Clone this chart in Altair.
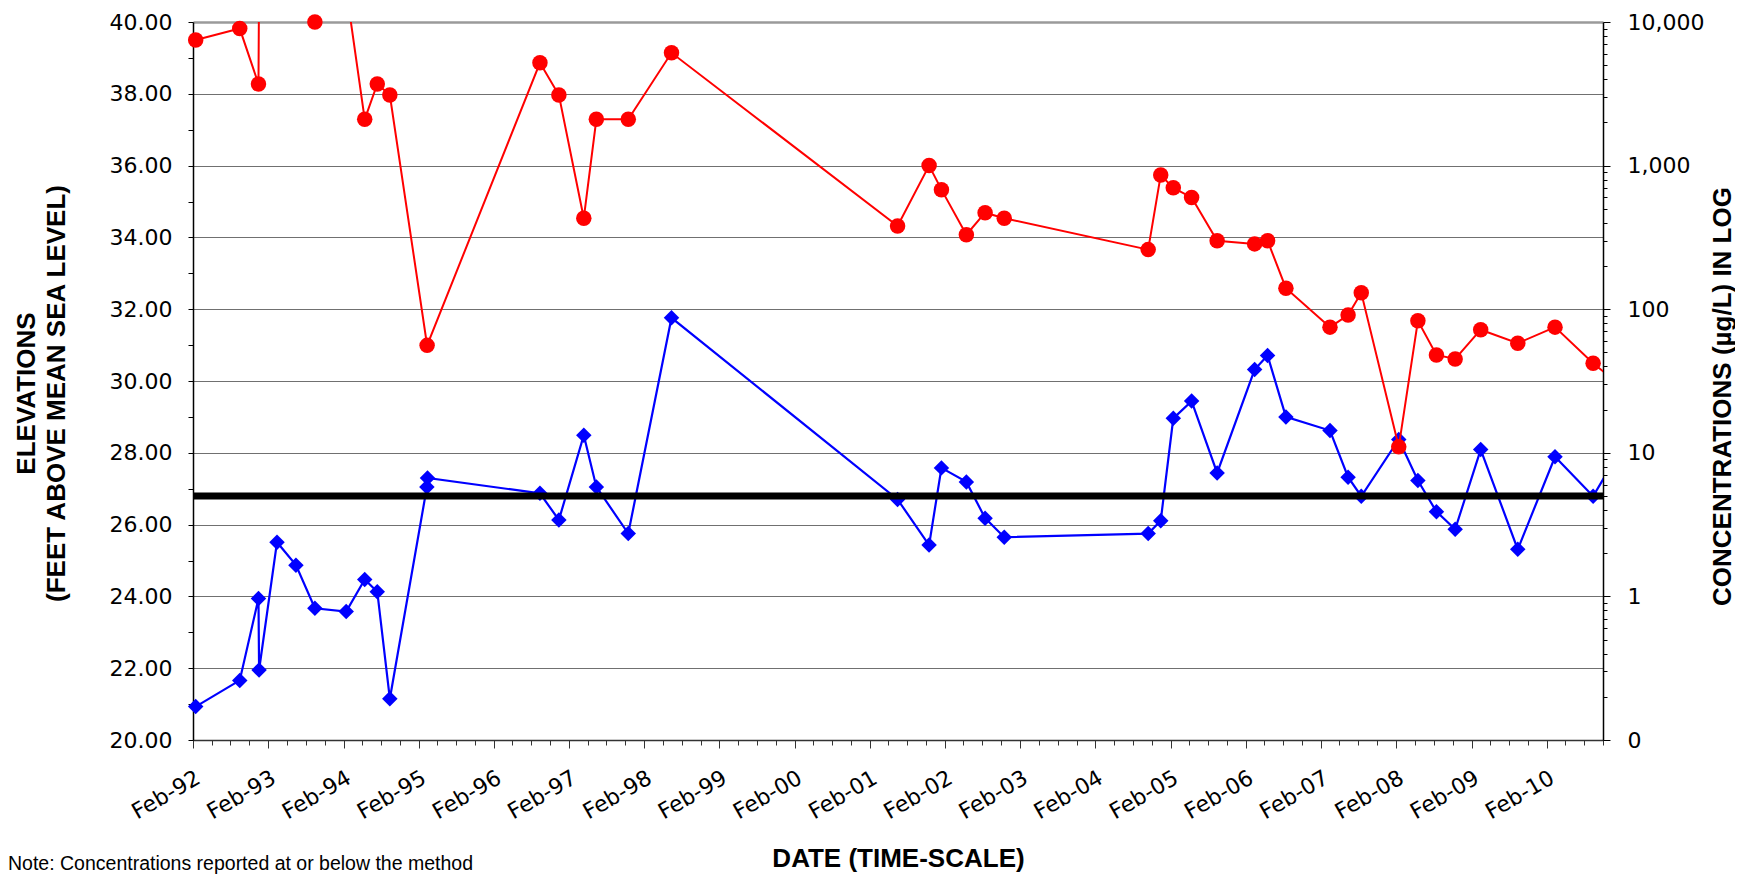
import altair as alt
import pandas as pd

# ---- data ----
red_dates = ["1992-02-14", "1992-09-15", "1992-12-15", "1992-12-18", "1993-09-15", "1994-02-14",
             "1994-05-15", "1994-07-15", "1994-09-14", "1995-03-14", "1996-09-12", "1996-12-13",
             "1997-04-13", "1997-06-13", "1997-11-15", "1998-06-13", "2001-06-15", "2001-11-15",
             "2002-01-14", "2002-05-15", "2002-08-14", "2002-11-15", "2004-10-14", "2004-12-14",
             "2005-02-13", "2005-05-13", "2005-09-14", "2006-03-15", "2006-05-17", "2006-08-14",
             "2007-03-16", "2007-06-12", "2007-08-15", "2008-02-13", "2008-05-16", "2008-08-14",
             "2008-11-13", "2009-03-17", "2009-09-13", "2010-03-13", "2010-09-14", "2011-03-15"]
red_conc = [7500, 9000, 3700, 20000, 10000, 17000,
            2100, 3700, 3100, 56, 5200, 3100,
            430, 2100, 2100, 6100, 380, 1000,
            680, 330, 470, 430, 260, 860,
            700, 600, 300, 285, 300, 140,
            75, 91, 130, 11, 83, 48,
            45, 72, 58, 75, 42, 26]

blue_dates = ["1992-02-14", "1992-09-15", "1992-12-15", "1992-12-18", "1993-03-15", "1993-06-15",
              "1993-09-15", "1994-02-14", "1994-05-15", "1994-07-15", "1994-09-14", "1995-03-13",
              "1995-03-16", "1996-09-12", "1996-12-13", "1997-04-13", "1997-06-13", "1997-11-15",
              "1998-06-13", "2001-06-15", "2001-11-15", "2002-01-14", "2002-05-15", "2002-08-14",
              "2002-11-15", "2004-10-14", "2004-12-14", "2005-02-13", "2005-05-13", "2005-09-14",
              "2006-03-15", "2006-05-17", "2006-08-14", "2007-03-16", "2007-06-12", "2007-08-15",
              "2008-02-13", "2008-05-16", "2008-08-14", "2008-11-13", "2009-03-17", "2009-09-13",
              "2010-03-13", "2010-09-14", "2011-03-15"]
blue_elev = [20.93, 21.66, 23.94, 21.95, 25.51, 24.87,
             23.67, 23.58, 24.47, 24.13, 21.15, 27.05,
             27.30, 26.87, 26.13, 28.49, 27.05, 25.75,
             31.76, 26.70, 25.43, 27.58, 27.19, 26.18,
             25.65, 25.75, 26.11, 28.96, 29.44, 27.44,
             30.32, 30.71, 29.00, 28.62, 27.32, 26.79,
             28.37, 27.23, 26.36, 25.87, 28.09, 25.31,
             27.89, 26.79, 28.56]

mcl_value = [5]
elev_ticks = list(range(20, 41))
conc_ticks = [round(k * 10 ** e, 6) for e in range(-1, 4) for k in range(1, 10)] + [10000]
note_text = ["Note:  Concentrations reported at or below the method"]

red_df = pd.DataFrame({"date": red_dates, "conc": red_conc})
blue_df = pd.DataFrame({"date": blue_dates, "elev": blue_elev})
mcl_df = pd.DataFrame({"mcl": mcl_value})
note_df = pd.DataFrame({"note": note_text})

TICKFONT = "DejaVu Sans"
TITLEFONT = "Liberation Sans"

# quarterly ticks, labelled every February
xticks = []
y, m = 1992, 2
while (y, m) <= (2010, 11):
    xticks.append(alt.DateTime(year=y, month=m, date=1))
    m += 3
    if m > 12:
        m -= 12
        y += 1

x_scale = alt.Scale(domain=[alt.DateTime(year=1992, month=2, date=1),
                            alt.DateTime(year=2010, month=11, date=1)])
x_axis = alt.Axis(
    values=xticks,
    labelExpr="month(datum.value) == 1 ? timeFormat(datum.value, '%b-%y') : ''",
    labelAngle=-30, labelAlign="right", labelBaseline="top",
    labelFont=TICKFONT, labelFontSize=22, labelColor="black",
    labelOverlap=False, labelFlush=False, labelPadding=19, labelOffset=0,
    tickSize={"condition": {"test": "month(datum.value) == 1", "value": 8}, "value": 5},
    tickColor="#333333", domainColor="#333333", domainWidth=1.5, grid=False,
    title="DATE (TIME-SCALE)", titleFont=TITLEFONT, titleFontSize=26, titleFontWeight="bold",
    titleColor="black", titleY=118, titleBaseline="middle",
)
x_enc = alt.X("date:T", scale=x_scale, axis=x_axis)

left_axis = alt.Axis(
    values=elev_ticks,
    labelExpr="datum.value % 2 == 0 ? format(datum.value, '.2f') : ''",
    labelFont=TICKFONT, labelFontSize=22, labelColor="black", labelOverlap=False, labelFlush=False,
    labelPadding=16, tickSize=5,
    tickColor="black", domainColor="black", domainWidth=1.5,
    grid=True,
    gridColor={"condition": {"test": "datum.value == 40", "value": "#9a9a9a"}, "value": "#707070"},
    gridWidth={"condition": {"test": "datum.value == 40", "value": 2.5}, "value": 1},
    gridOpacity={"condition": {"test": "datum.value % 2 == 0", "value": 1}, "value": 0},
    title=["ELEVATIONS", "(FEET ABOVE MEAN SEA LEVEL)"], titleFont=TITLEFONT, titleFontSize=26,
    titleFontWeight="bold", titleColor="black", titleAngle=270, titleAlign="center",
    titleBaseline="middle", titleX=-167, titleY=371, titleLineHeight=30,
)

right_axis = alt.Axis(
    orient="right", values=conc_ticks,
    labelExpr="indexof([0.1, 1, 10, 100, 1000, 10000], datum.value) >= 0 ? (datum.value < 1 ? '0' : format(datum.value, ',')) : ''",
    labelFont=TICKFONT, labelFontSize=22, labelColor="black", labelOverlap=False, labelFlush=False,
    labelPadding=17,
    tickSize={"condition": {"test": "indexof([0.1, 1, 10, 100, 1000, 10000], datum.value) >= 0", "value": 7}, "value": 4},
    tickColor="black", domainColor="black", domainWidth=1.5, grid=False,
    title="CONCENTRATIONS (µg/L) IN LOG", titleFont=TITLEFONT, titleFontSize=26, titleFontWeight="bold",
    titleColor="black", titleAngle=270, titleAlign="center", titleBaseline="middle",
    titleX=119, titleY=374,
)

elev_scale = alt.Scale(domain=[20, 40], nice=False, zero=False)
conc_scale = alt.Scale(type="log", domain=[0.1, 10000], nice=False)

blue_line = alt.Chart(blue_df).mark_line(color="#0000FF", strokeWidth=2.2, clip=True).encode(
    x=x_enc, y=alt.Y("elev:Q", scale=elev_scale, axis=left_axis))
blue_pts = alt.Chart(blue_df).mark_point(shape="diamond", filled=True, size=240, color="#0000FF",
                                         opacity=1).transform_calculate(
    t="toDate(datum.date)").transform_filter("datum.t <= datetime(2010, 10, 1)").encode(
    x=x_enc, y=alt.Y("elev:Q", scale=elev_scale, axis=left_axis))
blue = alt.layer(blue_line, blue_pts)

mcl_rule = alt.Chart(mcl_df).mark_rule(color="black", strokeWidth=7).encode(
    y=alt.Y("mcl:Q", scale=conc_scale, axis=right_axis))
red_line = alt.Chart(red_df).mark_line(color="#FF0000", strokeWidth=2, clip=True).encode(
    x=x_enc, y=alt.Y("conc:Q", scale=conc_scale, axis=right_axis))
red_pts = alt.Chart(red_df).mark_circle(size=240, color="#FF0000", opacity=1).transform_calculate(
    t="toDate(datum.date)").transform_filter(
    "datum.conc <= 10000 && datum.t <= datetime(2010, 10, 1)").encode(
    x=x_enc, y=alt.Y("conc:Q", scale=conc_scale, axis=right_axis))
note = alt.Chart(note_df).mark_text(align="left", baseline="alphabetic", font=TITLEFONT,
                                    fontSize=19.5, color="black").encode(
    text="note:N", x=alt.value(-185), y=alt.value(848))
red = alt.layer(mcl_rule, red_line, red_pts, note)

chart = alt.layer(blue, red).resolve_scale(y="independent").properties(
    width=1410, height=718,
    autosize=alt.AutoSizeParams(type="none"),
    padding={"left": 185, "top": 14, "right": 132, "bottom": 134},
    background="white",
).configure_view(stroke=None)

chart.save("out.html", embed_options={"renderer": "svg", "actions": False})
